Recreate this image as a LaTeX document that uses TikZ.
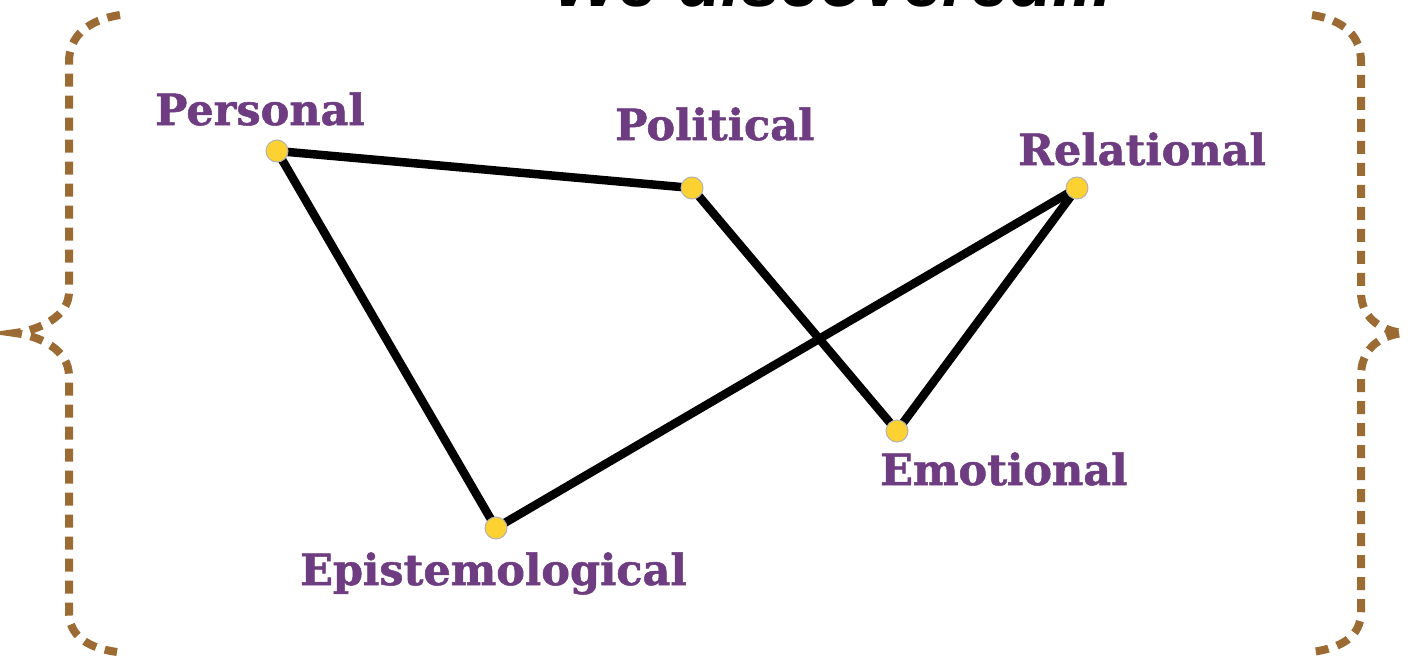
\documentclass[tikz,border=0pt]{standalone}
\usepackage{fontspec}
\newfontfamily\labelfont{DejaVu Serif Bold}[FakeBold=1.2]
\newfontfamily\titlefont{Liberation Sans}
\usetikzlibrary{backgrounds}
\definecolor{labpurple}{HTML}{6E3C80}
\definecolor{bracebrown}{HTML}{9C6A33}
\definecolor{dotyellow}{HTML}{FCD131}
\begin{document}
\begin{tikzpicture}[x=1pt,y=-1pt,
  dotnode/.style={circle,fill=dotyellow,draw=gray!60,line width=1pt,minimum size=22pt,inner sep=0pt},
  lab/.style={anchor=base west,inner sep=0pt,text=labpurple,font=\labelfont\fontsize{43}{43}\selectfont},
  edge/.style={line width=8.5pt,black},
  bracestyle/.style={draw=bracebrown,line width=8pt,dash pattern=on 13pt off 9pt}]
\useasboundingbox (0,0) rectangle (1408,659);
\clip (0,0) rectangle (1408,659);
% title (cut off at the top edge in the reference)
\node[anchor=base west,inner sep=0pt,font=\titlefont\bfseries\itshape\fontsize{71}{71}\selectfont] (title) at (553,6) {We discovered...};
% braces
\draw[bracestyle] (120,15) .. controls (88,20) and (69,36) .. (69,62) -- (69,292) .. controls (69,316) and (40,330) .. (15,333) .. controls (40,336) and (69,350) .. (69,376) -- (69,612) .. controls (69,636) and (88,648) .. (117,652);
\draw[bracestyle] (1312,15) .. controls (1344,20) and (1361,36) .. (1361,62) -- (1361,292) .. controls (1361,316) and (1378,330) .. (1403,333) .. controls (1378,336) and (1361,350) .. (1361,376) -- (1361,612) .. controls (1361,636) and (1342,648) .. (1312,652);
% dots
\node[dotnode] (pers) at (277,151) {};
\node[dotnode] (poli) at (692,188) {};
\node[dotnode] (rela) at (1077,188) {};
\node[dotnode] (emot) at (897,431) {};
\node[dotnode] (epis) at (496,528) {};
% labels
\node[lab] (lpers) at (155,125) {Personal};
\node[lab] (lpoli) at (615,140) {Political};
\node[lab] (lrela) at (1018,165) {Relational};
\node[lab] (lemot) at (880,485) {Emotional};
\node[lab] (lepis) at (300,585) {Epistemological};
% edges
\begin{scope}[on background layer]
\draw[edge] (pers.center) -- (poli.center);
\draw[edge] (pers.center) -- (epis.center);
\draw[edge] (poli.center) -- (emot.center);
\draw[edge] (emot.center) -- (rela.center);
\draw[edge] (rela.center) -- (epis.center);
\end{scope}
\end{tikzpicture}
\end{document}
